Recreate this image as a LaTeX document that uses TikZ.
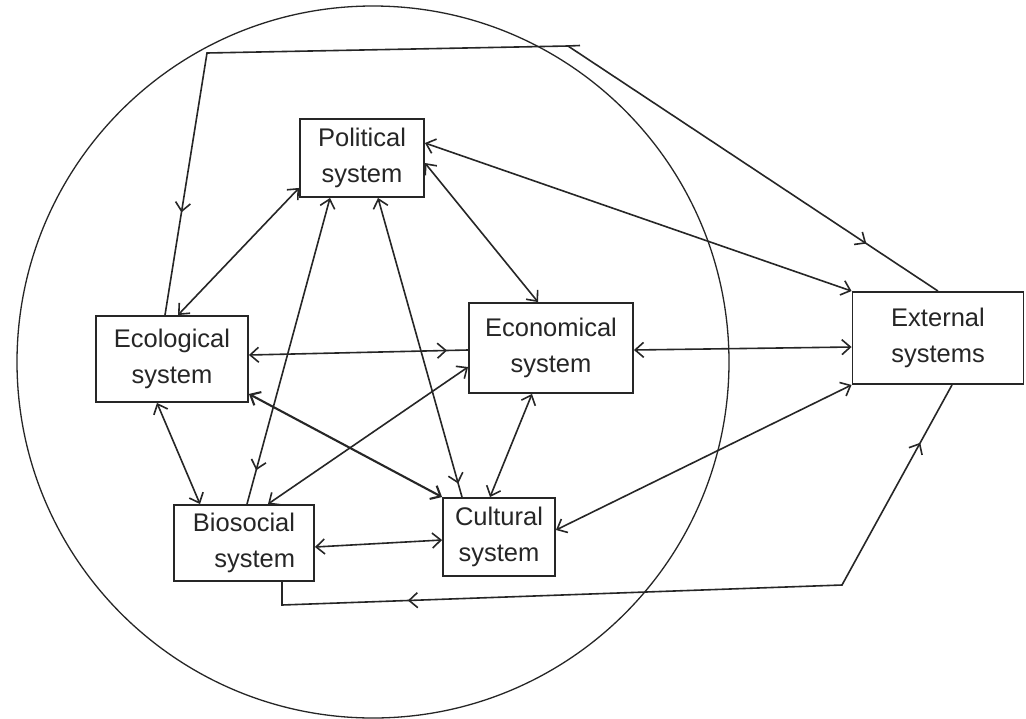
\documentclass[tikz,border=0pt]{standalone}
\usepackage{fontspec}
\setmainfont{Liberation Sans}
\usetikzlibrary{arrows.meta,decorations.markings,calc}
\begin{document}
\begin{tikzpicture}[x=1pt,y=-1pt,
  >={Straight Barb[length=8.5pt,width=15pt]},
  sysbox/.style={draw=black!85, line width=1.9pt, rectangle, inner sep=0pt, align=center,
    font=\fontsize{25.5}{36}\selectfont, text=black!85},
  conn/.style={draw=black!85, line width=1.6pt},
  ring/.style={draw=black!85, line width=1.3pt}]
\fill[white] (0,0) rectangle (1026,718);
\useasboundingbox (0,0) rectangle (1026,718);

% enclosing circle
\coordinate (cc) at (373,362);
\draw[ring] (cc) circle[radius=356pt];

% systems
\node[sysbox, minimum width=124pt, minimum height=78pt] (pol) at (362,158) {Political\\system};
\node[sysbox, minimum width=152pt, minimum height=86pt] (eco) at (172,359) {Ecological\\system};
\node[sysbox, minimum width=164pt, minimum height=90pt] (econ) at (551,348) {Economical\\system};
\node[sysbox, minimum width=171pt, minimum height=92pt] (ext) at (938,338) {External\\systems};
\node[sysbox, align=right, minimum width=140pt, minimum height=76pt] (bio) at (244,543) {Biosocial\\system};
\node[sysbox, minimum width=112pt, minimum height=78pt] (cul) at (499,537) {Cultural\\system};

% connectors
\draw[conn,<->] ([yshift=10pt]pol.south west) -- ([xshift=6pt]eco.north);
\draw[conn,<->] ([yshift=-5pt]pol.east) -- ([xshift=-13pt]econ.north);
\draw[conn,<->] ([yshift=15pt]pol.east) -- (ext.north west);
\draw[conn,<-,postaction={decorate},
  decoration={markings,mark=at position -35pt with {\arrow{>}}}]
  ([xshift=-32pt]pol.south) -- ([xshift=3pt]bio.north);
\draw[conn,<-,postaction={decorate},
  decoration={markings,mark=at position -14pt with {\arrow{>}}}]
  ([xshift=16pt]pol.south) -- ([xshift=-37pt]cul.north);
\draw[conn,<-,postaction={decorate},
  decoration={markings,mark=at position -21pt with {\arrow{>}}}]
  ([yshift=4pt]eco.east) -- ([yshift=-2pt]econ.west);
\draw[conn,line width=2.1pt,<->] ([yshift=9pt]eco.south east) -- (cul.north west);
\draw[conn,<->] ([xshift=-15pt]eco.south) -- ([xshift=-44pt]bio.north);
\draw[conn,<->] ([yshift=-2pt]econ.east) -- ([yshift=-9pt]ext.west);
\draw[conn,<->] ([yshift=-19pt]econ.west) -- ([xshift=24pt]bio.north);
\draw[conn,<->] ([xshift=-19pt]econ.south) -- ([xshift=-9pt]cul.north);
\draw[conn,<->] ([yshift=-4pt]bio.east) -- ([yshift=-3pt]cul.west);
\draw[conn,<->] ([yshift=7pt]cul.east) -- (ext.south west);

% feedback loop over the top
\coordinate (tr) at (568,46);
\coordinate (trx) at (580,45.5);
\coordinate (tl) at (207,53);
\draw[conn,postaction={decorate},
  decoration={markings,
    mark=at position 86pt with {\arrowreversed{>}},
    mark=at position -104pt with {\arrow{>}}}]
  (ext.north) -- (tr) -- (tl) -- ([xshift=-7pt]eco.north);
\draw[conn] (tr) -- (trx);

% feedback loop along the bottom
\coordinate (bl) at (282,605);
\coordinate (br) at (842,585);
\draw[conn,postaction={decorate},
  decoration={markings,
    mark=at position 149pt with {\arrowreversed{>}},
    mark=at position -66pt with {\arrow{>}}}]
  ([xshift=38pt]bio.south) -- (bl) -- (br) -- ([xshift=14pt]ext.south);
\end{tikzpicture}
\end{document}
